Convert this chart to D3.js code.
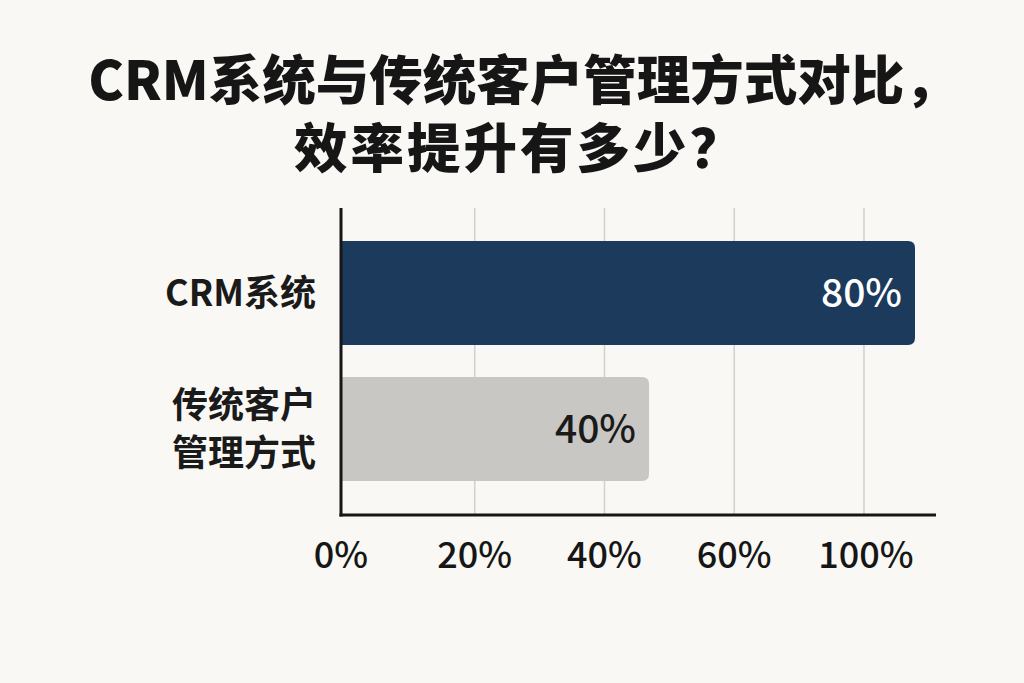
<!DOCTYPE html>
<html><head><meta charset="utf-8">
<script src="https://cdn.jsdelivr.net/npm/d3@7"></script>
<style>
html,body{margin:0;padding:0;background:#f9f8f4;}
svg{display:block;}
</style></head>
<body>
<script>
const titleLines = ["CRM系统与传统客户管理方式对比，", "效率提升有多少？"];
const categories = ["CRM系统", "传统客户管理方式"];
const categoryLabelLines = [["CRM系统"], ["传统客户", "管理方式"]];
const values = [80, 40];
const valueLabels = ["80%", "40%"];
const tickLabels = ["0%", "20%", "40%", "60%", "100%"];

const W = 1024, H = 683;
const font = "'Noto Sans CJK SC', 'Noto Sans', sans-serif";
const svg = d3.select("body").append("svg").attr("width", W).attr("height", H);
svg.append("rect").attr("width", W).attr("height", H).attr("fill", "#f9f8f4");

// title
svg.append("g").selectAll("text").data(titleLines).join("text")
  .attr("x", (d, i) => i === 0 ? 523 : 520).attr("y", (d, i) => 100 + i * 68)
  .attr("text-anchor", "middle")
  .attr("letter-spacing", (d, i) => i === 0 ? 0 : 3)
  .attr("font-family", font).attr("font-weight", 900).attr("font-size", 53.5)
  .attr("fill", "#161616").text(d => d);

const axisX = 341, axisBottom = 515, plotTop = 208;
const xTick = d3.scalePoint().domain(tickLabels).range([axisX + 4, 864]);
const xBar = d3.scaleLinear().domain([0, 100]).range([383, 1048]);
const y = d3.scaleBand().domain(categories).range([225, 497]).paddingInner(0.235).paddingOuter(0.1176);

// gridlines
svg.append("g").selectAll("line").data(tickLabels.slice(1)).join("line")
  .attr("x1", d => xTick(d)).attr("x2", d => xTick(d))
  .attr("y1", plotTop).attr("y2", axisBottom)
  .attr("stroke", "#d3d2ce").attr("stroke-width", 1.6);

// bars with rounded right corners
const colors = ["#1b3a5c", "#c8c7c3"];
const r = 7;
function barPath(x0, x1, y0, h) {
  return `M${x0},${y0} H${x1 - r} Q${x1},${y0} ${x1},${y0 + r} V${y0 + h - r} Q${x1},${y0 + h} ${x1 - r},${y0 + h} H${x0} Z`;
}
svg.append("g").selectAll("path").data(categories).join("path")
  .attr("d", (d, i) => barPath(axisX, xBar(values[i]), y(d), y.bandwidth()))
  .attr("fill", (d, i) => colors[i]);

// value labels
svg.append("g").selectAll("text").data(categories).join("text")
  .attr("x", (d, i) => xBar(values[i]) - 13)
  .attr("y", d => y(d) + y.bandwidth() / 2 + 14)
  .attr("text-anchor", "end")
  .attr("font-family", font).attr("font-weight", 500).attr("font-size", 39)
  .attr("fill", (d, i) => i === 0 ? "#ffffff" : "#1a1a1a")
  .text((d, i) => valueLabels[i]);

// category labels
categories.forEach((c, i) => {
  const lines = categoryLabelLines[i];
  const cy = y(c) + y.bandwidth() / 2;
  const lh = 48;
  svg.append("g").selectAll("text").data(lines).join("text")
    .attr("x", 316)
    .attr("y", (d, j) => cy + (j - (lines.length - 1) / 2) * lh + 13)
    .attr("text-anchor", "end")
    .attr("font-family", font).attr("font-weight", 700).attr("font-size", 36)
    .attr("fill", "#1a1a1a").text(d => d);
});

// axes lines
svg.append("line").attr("x1", axisX).attr("x2", axisX).attr("y1", plotTop).attr("y2", axisBottom + 1.5)
  .attr("stroke", "#161616").attr("stroke-width", 3);
svg.append("line").attr("x1", axisX - 1.5).attr("x2", 936).attr("y1", axisBottom).attr("y2", axisBottom)
  .attr("stroke", "#161616").attr("stroke-width", 3);

// tick labels
svg.append("g").selectAll("text").data(tickLabels).join("text")
  .attr("x", (d, i) => i === 0 ? axisX : xTick(d) + (d === "100%" ? 2 : 0)).attr("y", 568)
  .attr("text-anchor", "middle")
  .attr("font-family", font).attr("font-weight", 500).attr("font-size", 36)
  .attr("fill", "#161616").text(d => d);
</script>
</body></html>
